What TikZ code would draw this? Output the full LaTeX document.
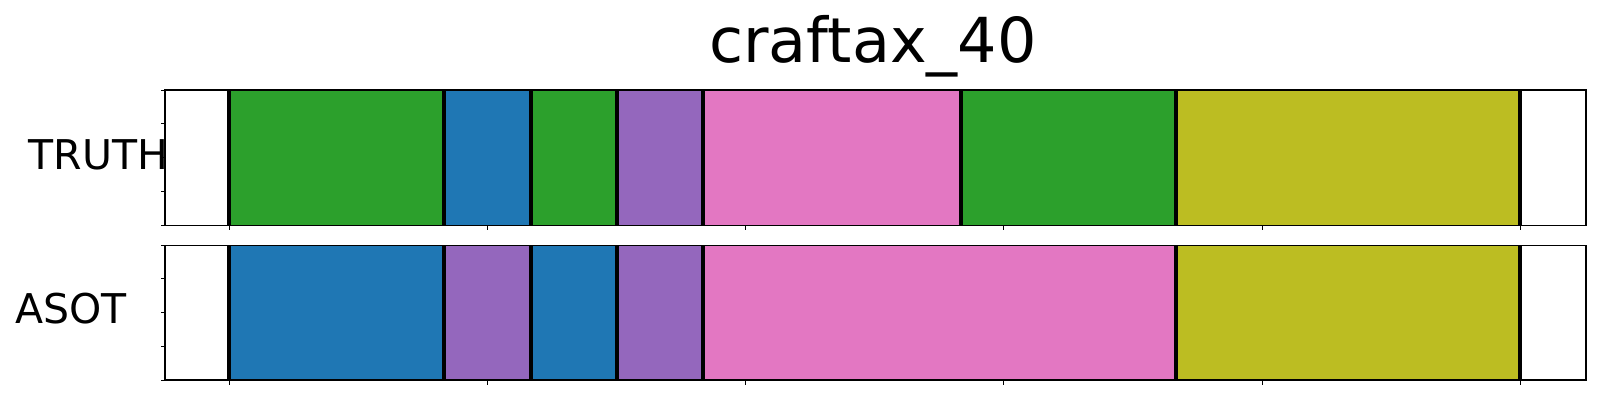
\documentclass[tikz,border=0pt]{standalone}
\usepackage{fontspec}
\setmainfont{DejaVu Sans}
\definecolor{tgreen}{HTML}{2CA02C}
\definecolor{tblue}{HTML}{1F77B4}
\definecolor{tpurple}{HTML}{9467BD}
\definecolor{tpink}{HTML}{E377C2}
\definecolor{tolive}{HTML}{BCBD22}
\tikzset{
  bound/.style={line width=4.2bp, black},
  frame/.style={line width=1.1bp, black},
  tickmark/.style={line width=1bp, black},
  lab/.style={font=\fontsize{41bp}{49bp}\selectfont, inner sep=0pt, anchor=base},
  ttl/.style={font=\fontsize{62bp}{74bp}\selectfont, inner sep=0pt, anchor=base}
}
\begin{document}
\begin{tikzpicture}[x=1bp,y=-1bp]
\useasboundingbox (0,0) rectangle (1600,400);
\fill[white] (0,0) rectangle (1600,400);
% TRUTH row
\foreach \a/\b/\c in {229/444/tgreen,444/531/tblue,531/617/tgreen,617/703/tpurple,703/961/tpink,961/1176/tgreen,1176/1520/tolive}
  \fill[\c] (\a,90) rectangle (\b,225.3);
% ASOT row
\foreach \a/\b/\c in {229/444/tblue,444/531/tpurple,531/617/tblue,617/703/tpurple,703/1176/tpink,1176/1520/tolive}
  \fill[\c] (\a,245.3) rectangle (\b,380);
% boundaries
\foreach \x in {229,444,531,617,703,961,1176,1520}
  \draw[bound] (\x,90) -- (\x,225.3);
\foreach \x in {229,444,531,617,703,1176,1520}
  \draw[bound] (\x,245.3) -- (\x,380);
% frames
\draw[frame] (165,90) rectangle (1586,225.3);
\draw[frame] (165,245.3) rectangle (1586,380);
% ticks
\foreach \x in {229,487.3,745.5,1003.8,1262,1520.3}{
  \draw[tickmark] (\x,225.3) -- (\x,230);
  \draw[tickmark] (\x,380) -- (\x,384.7);
}
\foreach \f in {0,0.25,0.5,0.75,1}{
  \draw[tickmark] (165,{90+\f*135.3}) -- (160.5,{90+\f*135.3});
  \draw[tickmark] (165,{245.3+\f*134.7}) -- (160.5,{245.3+\f*134.7});
}
% labels
\node[ttl] (title) at (873,62) {craftax\_40};
\node[lab] (truth) at (98.5,169) {TRUTH};
\node[lab] (asot) at (71.3,323) {ASOT};
\end{tikzpicture}
\end{document}
